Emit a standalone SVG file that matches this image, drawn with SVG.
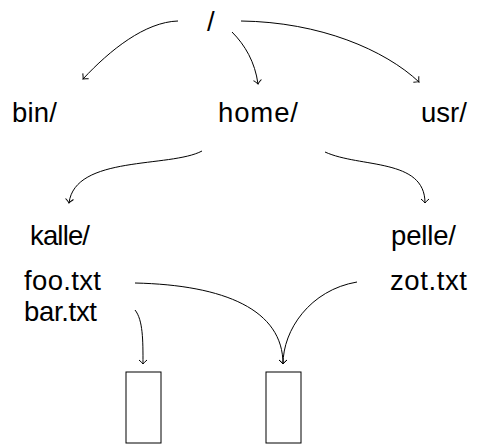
<svg xmlns="http://www.w3.org/2000/svg" width="482" height="444" viewBox="0 0 482 444">
<style>
text{font-family:"Liberation Sans",Arial,sans-serif;font-size:27.5px;fill:#000}
.c{fill:none;stroke:#000;stroke-width:1;marker-end:url(#ah)}
.box{fill:#fff;stroke:#000;stroke-width:1}
</style>
<defs>
<marker id="ah" markerUnits="userSpaceOnUse" markerWidth="12" markerHeight="12" refX="0" refY="0" viewBox="-6 -6 12 12" orient="auto" overflow="visible">
<path d="M-4,-4 Q-1,-0.5 0,0 Q-1,0.5 -4,4" fill="none" stroke="#000" stroke-width="1"/>
</marker>
</defs>
<g id="root"><text x="207" y="31">/</text></g>
<g id="bin"><text x="12" y="122" textLength="45">bin/</text></g>
<g id="home"><text x="218" y="122" textLength="80">home/</text></g>
<g id="usr"><text x="421" y="122">usr/</text></g>
<g id="kalle"><text x="30" y="245" textLength="60">kalle/</text></g>
<g id="pelle"><text x="391" y="245" textLength="65">pelle/</text></g>
<g id="foo"><text x="24" y="290" textLength="77">foo.txt</text></g>
<g id="bar"><text x="24" y="321" textLength="73">bar.txt</text></g>
<g id="zot"><text x="390" y="290" textLength="77">zot.txt</text></g>
<g id="box1"><rect class="box" x="126" y="372" width="35" height="71"/></g>
<g id="box2"><rect class="box" x="266" y="372" width="35" height="71"/></g>
<g id="connectors">
<path class="c" d="M178,21 C145,22 110,50 83,79"/>
<path class="c" d="M232,32 C245,45 255,62 258,84"/>
<path class="c" d="M241,21 C320,22 385,50 419,82"/>
<path class="c" d="M202,151 C170,168 75,155 69,203"/>
<path class="c" d="M325,152 C360,168 425,158 425,203"/>
<path class="c" d="M135,283 C225,285 283,310 283,364"/>
<path class="c" d="M357,282 C310,290 283,330 283,364"/>
<path class="c" d="M135,310 C143,320 143,340 143,364"/>
</g>
</svg>
